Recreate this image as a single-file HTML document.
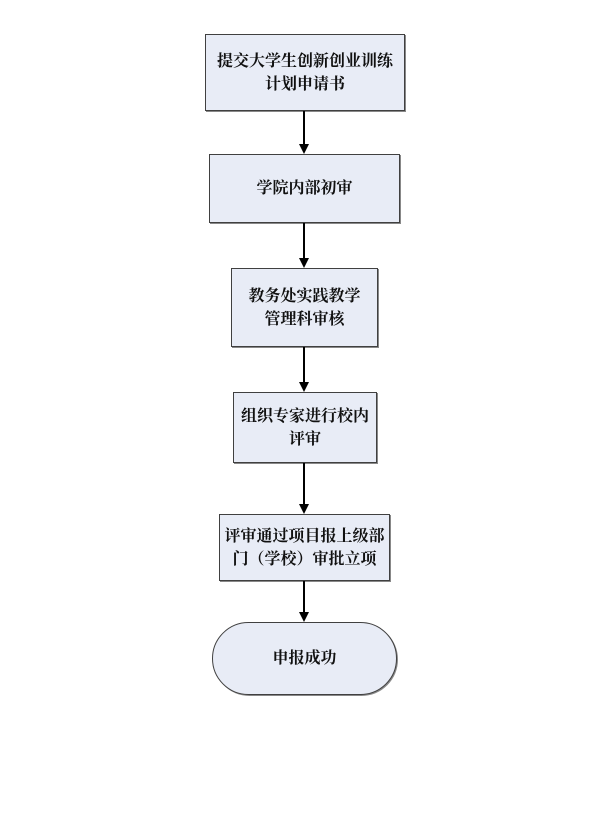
<!DOCTYPE html>
<html><head><meta charset="utf-8"><style>
body{margin:0;width:610px;height:829px;background:#fff;position:relative;overflow:hidden}
.b{position:absolute;box-sizing:border-box;background:#e8ecf6;border:1px solid #404040;box-shadow:1px 1px 0 #888;display:flex;align-items:center;justify-content:center;text-align:center;font-family:"Liberation Serif","Noto Serif CJK SC",serif;font-weight:bold;font-size:16px;line-height:23px;color:#111;white-space:nowrap}
</style></head><body>
<div class="b" style="left:205px;top:34px;width:200px;height:77px">提交大学生创新创业训练<br>计划申请书</div>
<div class="b" style="left:209px;top:154px;width:191px;height:69px">学院内部初审</div>
<div class="b" style="left:231px;top:268px;width:147px;height:79px">教务处实践教学<br>管理科审核</div>
<div class="b" style="left:233px;top:392px;width:144px;height:71px">组织专家进行校内<br>评审</div>
<div class="b" style="left:219px;top:514px;width:171px;height:67px">评审通过项目报上级部<br>门（学校）审批立项</div>
<div class="b" style="left:212px;top:622px;width:185px;height:73px;border-radius:37px">申报成功</div>
<svg width="610" height="829" style="position:absolute;left:0;top:0">
<g stroke="#000" stroke-width="2">
<line x1="304" y1="111" x2="304" y2="145"/>
<line x1="304" y1="223" x2="304" y2="259"/>
<line x1="304" y1="347" x2="304" y2="383"/>
<line x1="304" y1="463" x2="304" y2="505"/>
<line x1="304" y1="581" x2="304" y2="613"/>
</g>
<g fill="#000">
<path d="M299 144h10l-5 10z"/>
<path d="M299 258h10l-5 10z"/>
<path d="M299 382h10l-5 10z"/>
<path d="M299 504h10l-5 10z"/>
<path d="M299 612h10l-5 10z"/>
</g>
</svg>
</body></html>
